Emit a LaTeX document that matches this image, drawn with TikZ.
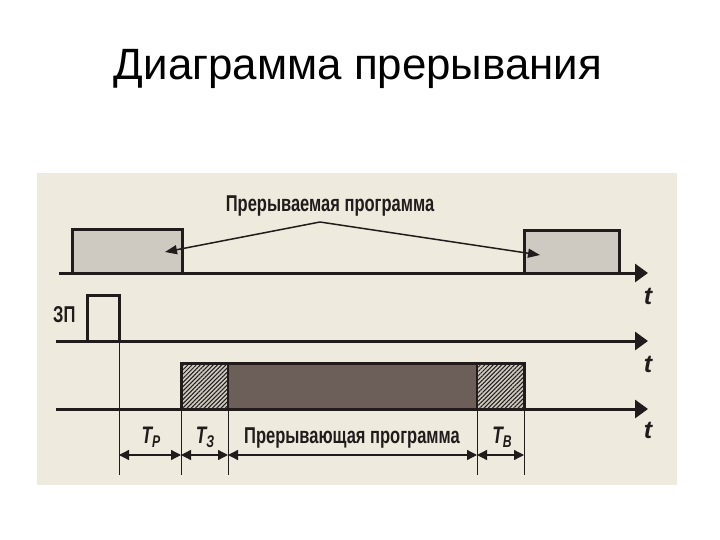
\documentclass[tikz,border=0pt]{standalone}
\usepackage{fontspec}
\setmainfont{Liberation Sans}
\newfontfamily\narrowfont[FakeStretch=0.72]{Liberation Sans}
\usetikzlibrary{arrows.meta,patterns.meta}
\definecolor{paper}{RGB}{238,234,221}
\definecolor{ink}{RGB}{33,28,27}
\definecolor{lightfill}{RGB}{207,202,193}
\definecolor{darkfill}{RGB}{108,94,88}

\tikzset{
  axisline/.style={ink,line width=3bp,-{Triangle[length=13bp,width=18bp]}},
  pulse/.style={ink,line width=3bp},
  guide/.style={ink,line width=0.9bp},
  dimline/.style={ink,line width=1.3bp,{Triangle[length=10bp,width=10bp]}-{Triangle[length=10bp,width=10bp]}},
  leader/.style={ink,line width=1.5bp,-{Triangle[length=12bp,width=9bp]}},
  lbl/.style={ink,font=\narrowfont\bfseries\fontsize{23}{25}\selectfont,inner sep=0pt},
  tlbl/.style={ink,font=\bfseries\itshape\fontsize{25}{27}\selectfont,inner sep=0pt},
  tsub/.style={ink,font=\narrowfont\bfseries\itshape\fontsize{24}{26}\selectfont,inner sep=0pt},
  hatch/.style={pattern={Lines[angle=45,distance=3bp,line width=1bp]},pattern color=ink}
}
\newcommand{\Tsub}[1]{T\raisebox{-0.35ex}{\fontsize{17}{18}\selectfont #1}}

\begin{document}
\begin{tikzpicture}[x=1bp,y=-1bp]
\useasboundingbox (0,0) rectangle (720,540);
\fill[white] (0,0) rectangle (720,540);
\node[anchor=base,font=\fontsize{44}{50}\selectfont] (title) at (358,80) {Диаграмма прерывания};
\fill[paper] (37,173) rectangle (677,485);

%Interrupted program
\filldraw[pulse,fill=lightfill] (72,273) rectangle (182,230);
\filldraw[pulse,fill=lightfill] (524,273) rectangle (619,231);
\draw[axisline] (59,273) -- (648,273);
\node[lbl,anchor=base] (lblmain) at (330,212) {Прерываемая программа};
\coordinate (apex) at (320,222);
\coordinate (boxA) at (165,252);
\coordinate (boxB) at (540,255);
\draw[leader] (apex) -- (boxA);
\draw[leader] (apex) -- (boxB);

%Request
\node[lbl,anchor=base west] (req) at (53,322) {ЗП};
\draw[pulse] (87,341) -- (87,295) -- (119,295) -- (119,341);
\draw[axisline] (56,341) -- (648,341);

%Interrupting program
\fill[lightfill] (181,409) rectangle (228,363);
\fill[hatch] (181,409) rectangle (228,363);
\fill[darkfill] (228,409) rectangle (477,363);
\fill[lightfill] (477,409) rectangle (524,363);
\fill[hatch] (477,409) rectangle (524,363);
\draw[pulse] (181,409) -- (181,363) -- (524,363) -- (524,409);
\draw[ink,line width=2bp] (228,363) -- (228,409) (477,363) -- (477,409);
\draw[axisline] (56,409) -- (648,409);

%Time axes
\foreach \n/\y in {1/304,2/372,3/438}
  \node[tlbl,anchor=base] (t\n) at (648,\y) {t};

%Guide lines
\draw[guide] (119,341) -- (119,475);
\foreach \n/\x in {z/181,w/228,v/477,e/524}
  \draw[guide] (\x,409) -- (\x,475);
\foreach \n/\x in {r/119,z/181,w/228,v/477,e/524}
  \coordinate (d\n) at (\x,455);

%Intervals
\draw[dimline] (dr) -- (dz);
\draw[dimline] (dz) -- (dw);
\draw[dimline] (dw) -- (dv);
\draw[dimline] (dv) -- (de);
\node[tsub,anchor=base] (Tp) at (151,443) {\Tsub{Р}};
\node[tsub,anchor=base] (Tz) at (205,443) {\Tsub{З}};
\node[lbl,anchor=base] (lblint) at (352,443) {Прерывающая программа};
\node[tsub,anchor=base] (Tv) at (502,443) {\Tsub{В}};
\end{tikzpicture}
\end{document}
